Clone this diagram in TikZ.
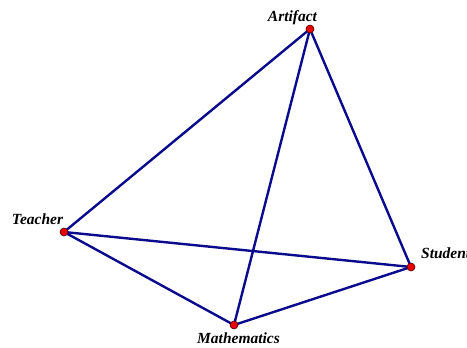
\documentclass[tikz,border=0pt]{standalone}
\usepackage{fontspec}
\setmainfont{Liberation Serif}
\definecolor{edgeblue}{RGB}{10,10,140}
\definecolor{dotred}{RGB}{235,0,0}
\begin{document}
\begin{tikzpicture}[x=1pt,y=-1pt,
  edge/.style={draw=edgeblue,line width=2.4pt},
  vertex/.style={circle,fill=dotred,draw=black!70!red,line width=0.6pt,inner sep=0pt,minimum size=8pt},
  lbl/.style={font=\fontsize{15.5}{18}\selectfont\bfseries\itshape,inner sep=0pt}]
\useasboundingbox (0,0) rectangle (467,348);
\fill[white] (0,0) rectangle (467,348);
\coordinate (A) at (310,29);
\coordinate (T) at (64,232);
\coordinate (S) at (411,267);
\coordinate (M) at (234,325);
\draw[edge] (A) -- (T);
\draw[edge] (A) -- (S);
\draw[edge] (A) -- (M);
\draw[edge] (T) -- (S);
\draw[edge] (T) -- (M);
\draw[edge] (M) -- (S);
\node[vertex] (vA) at (A) {};
\node[vertex] (vT) at (T) {};
\node[vertex] (vS) at (S) {};
\node[vertex] (vM) at (M) {};
\node[lbl,anchor=base] (lA) at (292.5,21) {Artifact};
\node[lbl,anchor=base] (lT) at (37.5,224) {Teacher};
\node[lbl,anchor=base west] (lS) at (421,258) {Student};
\node[lbl,anchor=base] (lM) at (238.5,343) {Mathematics};
\end{tikzpicture}
\end{document}
